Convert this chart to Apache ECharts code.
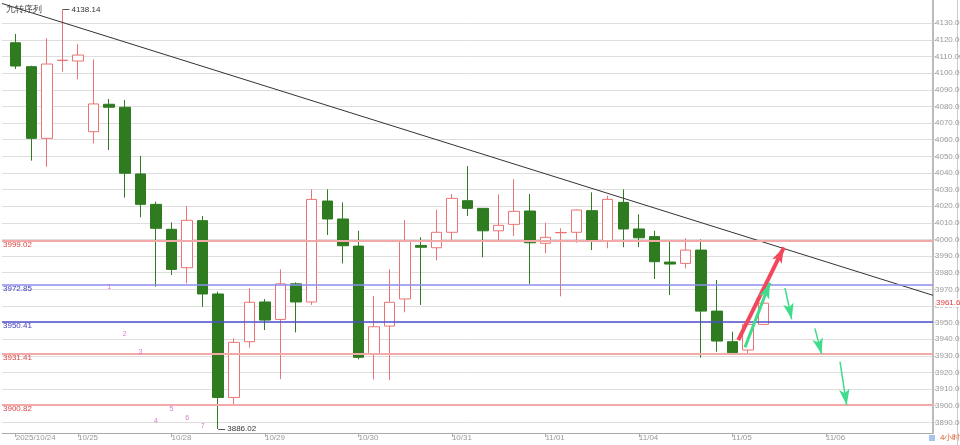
<!DOCTYPE html>
<html>
<head>
<meta charset="utf-8">
<script src="https://cdn.jsdelivr.net/npm/echarts@6/dist/echarts.min.js"></script>
<style>
  html, body { margin: 0; padding: 0; background: #fff; }
  #chart { width: 960px; height: 445px; }
</style>
</head>
<body>
<div id="chart"></div>
<script>
// 4小时 K线: [index, open, close, low, high]
const candles = [
  [0, 4118.3, 4104.3, 4102.5, 4123.6],
  [1, 4103.9, 4060.8, 4047.4, 4104.5],
  [2, 4060.8, 4105.5, 4043.7, 4121.0],
  [3, 4107.6, 4107.8, 4100.9, 4138.14],
  [4, 4107.3, 4110.9, 4096.3, 4117.5],
  [5, 4064.8, 4081.5, 4057.8, 4108.3],
  [6, 4081.3, 4079.5, 4053.8, 4084.5],
  [7, 4079.5, 4039.8, 4025.1, 4083.9],
  [8, 4039.4, 4021.1, 4013.3, 4050.2],
  [9, 4021.1, 4006.7, 3971.6, 4022.7],
  [10, 4006.1, 3982.0, 3978.6, 4010.3],
  [11, 3983.0, 4011.5, 3973.6, 4020.1],
  [12, 4011.3, 3967.2, 3959.5, 4014.1],
  [13, 3967.2, 3905.0, 3886.02, 3968.6],
  [14, 3905.0, 3938.1, 3900.4, 3940.5],
  [15, 3938.5, 3962.2, 3934.9, 3970.6],
  [16, 3962.4, 3951.5, 3945.5, 3964.2],
  [17, 3951.9, 3973.3, 3916.0, 3982.0],
  [18, 3973.3, 3962.4, 3944.1, 3974.2],
  [19, 3962.4, 4024.1, 3960.6, 4030.1],
  [20, 4023.1, 4012.3, 4002.7, 4030.1],
  [21, 4012.3, 3996.2, 3985.6, 4022.3],
  [22, 3996.0, 3929.1, 3927.9, 4005.2],
  [23, 3930.9, 3947.5, 3915.8, 3966.0],
  [24, 3947.9, 3962.2, 3915.4, 3982.0],
  [25, 3964.2, 3999.1, 3956.2, 4011.7],
  [26, 3996.4, 3995.3, 3960.6, 4001.3],
  [27, 3995.0, 4004.3, 3987.4, 4017.9],
  [28, 4004.3, 4024.7, 3999.7, 4027.3],
  [29, 4023.3, 4018.7, 4014.1, 4044.1],
  [30, 4018.7, 4005.2, 3989.2, 4018.9],
  [31, 4005.2, 4008.5, 3999.7, 4027.1],
  [32, 4009.1, 4016.9, 4002.1, 4036.2],
  [33, 4017.1, 3998.0, 3973.3, 4027.3],
  [34, 3997.7, 4001.3, 3991.6, 4010.1],
  [35, 4004.0, 4004.2, 3965.8, 4006.7],
  [36, 4004.3, 4017.7, 3998.0, 4018.0],
  [37, 4017.3, 3999.1, 3993.6, 4028.3],
  [38, 3999.1, 4024.1, 3994.7, 4026.3],
  [39, 4022.3, 4006.3, 3995.3, 4030.1],
  [40, 4006.3, 4001.0, 3995.3, 4015.1],
  [41, 4001.7, 3986.6, 3976.2, 4005.2],
  [42, 3986.4, 3985.2, 3966.6, 3999.7],
  [43, 3985.6, 3993.6, 3982.6, 4000.7],
  [44, 3993.6, 3956.9, 3928.9, 4000.0],
  [45, 3956.9, 3938.9, 3932.5, 3975.6],
  [46, 3938.5, 3931.9, 3931.5, 3944.5],
  [47, 3933.5, 3948.9, 3930.5, 3949.0],
  [48, 3948.9, 3961.67, 3948.5, 3962.0]
];

// 日期刻度 (index of first bar of the day)
const dayTicks = [0, 4, 10, 16, 22, 28, 34, 40, 46, 52];
const dayLabels = ['2025/10/24', '10/25', '10/28', '10/29', '10/30', '10/31', '11/01', '11/04', '11/05', '11/06'];

// 价格刻度
const priceTicks = [3890, 3900, 3910, 3920, 3930, 3940, 3950, 3960, 3970, 3980, 3990, 4000,
  4010, 4020, 4030, 4040, 4050, 4060, 4070, 4080, 4090, 4100, 4110, 4120, 4130];

// 支撑 / 压力线
const redLevels = [3999.02, 3931.41, 3900.82];
const blueLevels = [3972.85, 3950.41];
const lastPrice = 3961.67;

// 最高 / 最低
const highMark = [3, 4138.14];
const lowMark = [13, 3886.02];

// 九转序列
const nineCount = [
  [6, 3971.3, '1'],
  [7, 3943.1, '2'],
  [8, 3932.2, '3'],
  [9, 3891.0, '4'],
  [10, 3898.0, '5'],
  [11, 3892.4, '6'],
  [12, 3887.8, '7']
];

// 下降趋势线
const trendLine = [[-0.88, 4141.9], [58.88, 3966.4]];

// 箭头
const redArrow = [[46.38, 3939.5], [49.31, 3995.3]];
const greenArrows = [
  [[46.81, 3935.1], [48.41, 3974.0]],
  [[49.38, 3970.8], [49.81, 3952.0]],
  [[51.30, 3946.5], [51.73, 3931.1]],
  [[52.91, 3926.5], [53.34, 3900.4]]
];

const FONT = 'Liberation Sans, Arial, sans-serif';

const levelLines = [];
redLevels.forEach(v => levelLines.push({
  yAxis: v,
  lineStyle: { color: '#f4a9a9', width: 2, type: 'solid' },
  label: { color: '#d94848' },
}));
blueLevels.forEach((v, i) => levelLines.push({
  yAxis: v,
  lineStyle: { color: i === 0 ? '#8c8cf0' : '#4f4fcf', width: 1.5, type: 'solid' },
  label: { color: '#3a3ac4' },
}));

const chart = echarts.init(document.getElementById('chart'));
const option = {
  animation: false,
  backgroundColor: '#fff',
  title: {
    text: '九转序列',
    left: 1,
    top: 0,
    textStyle: { fontSize: 9, fontWeight: 'normal', color: '#444', fontFamily: FONT },
  },
  grid: { left: 2, right: 27, top: 0, bottom: 12, outerBoundsMode: 'none', containLabel: false },
  xAxis: {
    type: 'value',
    min: -0.88,
    max: 58.88,
    splitLine: { show: false },
    axisLine: { show: true, onZero: false, lineStyle: { color: '#aaa' } },
    axisTick: {
      show: true,
      length: 4,
      customValues: dayTicks,
      lineStyle: { color: '#aaa' },
    },
    axisLabel: {
      customValues: dayTicks,
      formatter: v => dayLabels[dayTicks.indexOf(Math.round(v))] || '',
      color: '#999',
      fontSize: 8,
      fontFamily: FONT,
      align: 'left',
      margin: 1,
    },
  },
  yAxis: {
    type: 'value',
    position: 'right',
    min: 3883.6,
    max: 4144.0,
    axisLine: { show: true, onZero: false, lineStyle: { color: '#bbb', width: 2 } },
    axisTick: { show: true, length: 3, customValues: priceTicks, lineStyle: { color: '#ccc' } },
    axisLabel: {
      customValues: priceTicks,
      formatter: v => v.toFixed(2),
      color: '#999',
      fontSize: 8,
      fontFamily: FONT,
      margin: 2,
    },
    splitLine: { show: true, lineStyle: { color: '#dedede', width: 1 } },
  },
  series: [
    {
      type: 'candlestick',
      data: candles,
      barWidth: 11,
      clip: false,
      itemStyle: {
        color: '#ffffff',
        color0: '#2e7b20',
        borderColor: '#ec7373',
        borderColor0: '#2e7b20',
        borderWidth: 1,
      },
      markLine: {
        silent: true,
        symbol: 'none',
        label: {
          show: true,
          position: 'insideStartBottom',
          distance: [1, 0],
          formatter: p => p.value.toFixed(2),
          fontSize: 8,
          fontFamily: FONT,
        },
        data: levelLines.concat([
          {
            yAxis: lastPrice,
            lineStyle: { color: 'rgba(0,0,0,0)', width: 0 },
            label: { position: 'end', distance: 3, color: '#e03c3c', backgroundColor: '#fff', formatter: p => p.value.toFixed(2) },
          },
          [
            { coord: highMark, lineStyle: { color: '#555', width: 1, type: 'solid' } },
            { coord: [highMark[0] + 0.45, highMark[1]], label: { position: 'end', distance: 2, color: '#333', formatter: () => highMark[1].toFixed(2) } },
          ],
          [
            { coord: lowMark, lineStyle: { color: '#555', width: 1, type: 'solid' } },
            { coord: [lowMark[0] + 0.45, lowMark[1]], label: { position: 'end', distance: 2, color: '#333', formatter: () => lowMark[1].toFixed(2) } },
          ],
        ]),
      },
      z: 3,
    },
    {
      type: 'line',
      data: trendLine,
      symbol: 'none',
      silent: true,
      lineStyle: { color: '#333', width: 1 },
      z: 4,
    },
    {
      type: 'scatter',
      data: nineCount,
      symbolSize: 0,
      silent: true,
      label: {
        show: true,
        position: 'inside',
        formatter: p => p.value[2],
        color: '#d455d4',
        fontSize: 7,
        fontFamily: FONT,
      },
      z: 5,
    },
    {
      type: 'line',
      data: [],
      markLine: {
        silent: true,
        symbol: ['none', 'arrow'],
        label: { show: false },
        data: [
          [
            { coord: redArrow[0], lineStyle: { color: '#f2485c', width: 4, type: 'solid' }, symbolSize: 14 },
            { coord: redArrow[1] },
          ],
        ].concat(greenArrows.map((a, i) => [
          { coord: a[0], lineStyle: { color: '#3fdc8c', width: i === 0 ? 3 : 1.5, type: 'solid' }, symbolSize: i === 0 ? 10 : 6 },
          { coord: a[1] },
        ])),
      },
      z: 6,
    },
  ],
  graphic: [
    { type: 'rect', left: 929, top: 435, shape: { width: 6, height: 6 }, style: { fill: '#a8c4ee' } },
    { type: 'text', left: 940, top: 434, style: { text: '4小时', fill: '#e0602c', fontSize: 8, fontFamily: FONT } },
    { type: 'line', shape: { x1: 957.5, y1: 0, x2: 957.5, y2: 445 }, style: { stroke: '#ccc', lineWidth: 1 } },
  ],
};
chart.setOption(option);
</script>
</body>
</html>
